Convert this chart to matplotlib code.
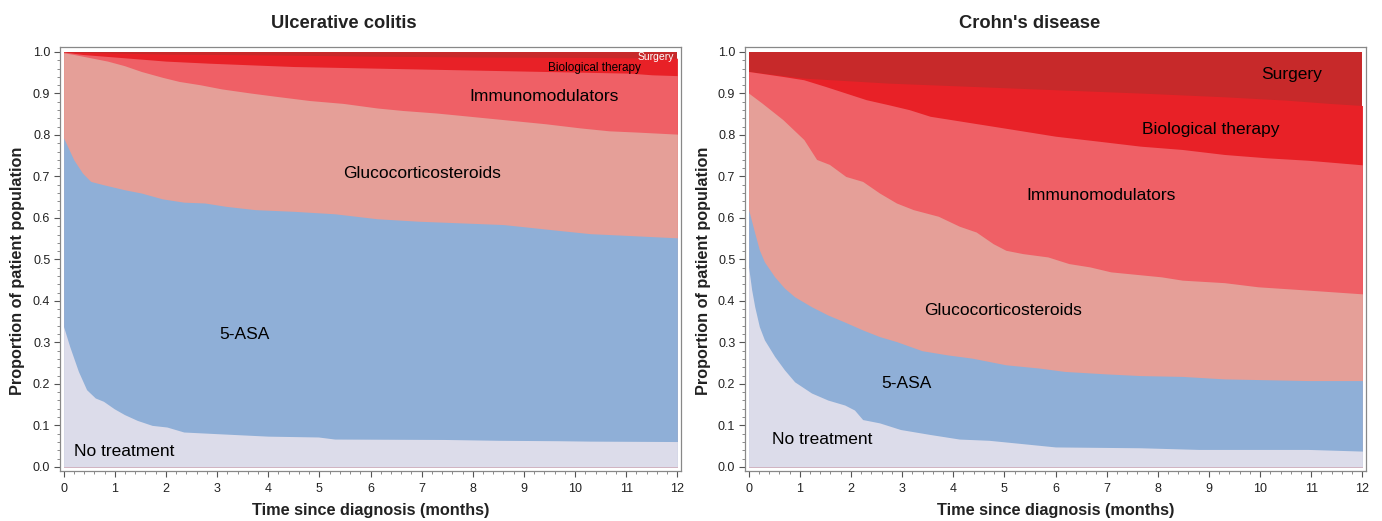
import matplotlib
matplotlib.use("Agg")
import matplotlib.pyplot as plt
from matplotlib.ticker import MultipleLocator, AutoMinorLocator, FormatStrFormatter

plt.rcParams['font.family'] = ['Liberation Sans', 'DejaVu Sans']

# ---------------- Data (upper edge of each cumulative layer) ----------------
# Ulcerative colitis
uc_none_t = [0, 0.12, 0.29, 0.45, 0.62, 0.78, 0.99, 1.19, 1.44, 1.73, 2.02, 2.35, 3.0, 4.0, 4.98, 5.3, 7.45, 8.5, 9.67, 10.3, 12]
uc_none_y = [0.338, 0.29, 0.23, 0.186, 0.166, 0.158, 0.14, 0.126, 0.112, 0.10, 0.096, 0.084, 0.08, 0.074, 0.072, 0.067, 0.066, 0.064, 0.063, 0.062, 0.061]

uc_asa_t = [0, 0.2, 0.37, 0.53, 0.78, 1.19, 1.52, 1.93, 2.35, 2.76, 3.17, 3.74, 4.49, 5.3, 6.13, 6.95, 7.78, 8.6, 9.67, 10.3, 11.0, 12]
uc_asa_y = [0.793, 0.74, 0.708, 0.688, 0.68, 0.668, 0.66, 0.646, 0.638, 0.636, 0.628, 0.62, 0.616, 0.61, 0.598, 0.592, 0.588, 0.584, 0.57, 0.562, 0.558, 0.552]

uc_gluco_t = [0, 0.2, 0.53, 0.86, 1.19, 1.52, 1.93, 2.26, 2.67, 3.09, 3.66, 4.16, 4.81, 5.47, 6.13, 6.63, 7.28, 7.78, 8.6, 9.42, 10.1, 10.66, 11.2, 12]
uc_gluco_y = [0.998, 0.994, 0.986, 0.978, 0.967, 0.953, 0.939, 0.929, 0.921, 0.911, 0.901, 0.893, 0.883, 0.876, 0.865, 0.859, 0.853, 0.847, 0.837, 0.827, 0.817, 0.81, 0.807, 0.802]

uc_immuno_t = [0, 0.37, 1.19, 2.0, 2.84, 3.66, 4.49, 6.13, 7.78, 9.42, 11.07, 11.5, 12]
uc_immuno_y = [1.0, 0.994, 0.986, 0.978, 0.973, 0.969, 0.965, 0.961, 0.957, 0.953, 0.949, 0.945, 0.943]

uc_bio_t = [0, 2, 4, 6, 8, 10, 12]
uc_bio_y = [1.0, 0.995, 0.993, 0.99, 0.988, 0.987, 0.985]

uc_surg_t = [0, 12]
uc_surg_y = [1.0, 1.0]

# Crohn's disease
cd_none_t = [0, 0.06, 0.12, 0.21, 0.31, 0.51, 0.7, 0.9, 1.23, 1.55, 1.88, 2.07, 2.23, 2.56, 2.97, 3.55, 4.12, 4.7, 5.19, 6.0, 7.66, 8.8, 10.94, 12]
cd_none_y = [0.482, 0.427, 0.386, 0.338, 0.306, 0.266, 0.234, 0.205, 0.178, 0.161, 0.149, 0.137, 0.114, 0.106, 0.09, 0.078, 0.067, 0.064, 0.058, 0.048, 0.046, 0.042, 0.042, 0.038]

cd_asa_t = [0, 0.12, 0.21, 0.31, 0.51, 0.7, 0.9, 1.23, 1.55, 1.88, 2.23, 2.56, 2.89, 3.39, 3.88, 4.37, 5.03, 5.69, 6.18, 7.0, 7.66, 8.48, 9.3, 10.12, 10.94, 12]
cd_asa_y = [0.62, 0.564, 0.523, 0.494, 0.458, 0.431, 0.41, 0.386, 0.366, 0.349, 0.33, 0.314, 0.302, 0.28, 0.27, 0.262, 0.246, 0.238, 0.23, 0.224, 0.22, 0.218, 0.212, 0.21, 0.208, 0.208]

cd_gluco_t = [0, 0.26, 0.67, 1.08, 1.33, 1.58, 1.9, 2.23, 2.56, 2.89, 3.22, 3.71, 4.12, 4.45, 4.78, 5.03, 5.36, 5.85, 6.26, 6.67, 7.08, 7.41, 8.07, 8.48, 9.3, 9.96, 10.94, 12]
cd_gluco_y = [0.901, 0.877, 0.837, 0.789, 0.741, 0.729, 0.70, 0.688, 0.66, 0.636, 0.62, 0.604, 0.58, 0.566, 0.538, 0.522, 0.514, 0.506, 0.49, 0.482, 0.47, 0.466, 0.458, 0.45, 0.444, 0.434, 0.426, 0.417]

cd_immuno_t = [0, 0.67, 1.08, 1.5, 1.9, 2.3, 2.73, 3.14, 3.55, 3.96, 4.37, 5.19, 6.0, 6.84, 7.66, 8.48, 9.3, 10.12, 10.94, 12]
cd_immuno_y = [0.953, 0.941, 0.933, 0.917, 0.901, 0.885, 0.873, 0.861, 0.845, 0.837, 0.829, 0.813, 0.797, 0.785, 0.773, 0.765, 0.753, 0.745, 0.739, 0.728]

cd_bio_t = [0, 1.08, 2.73, 4.37, 6.0, 7.66, 9.3, 10.5, 11.36, 12]
cd_bio_y = [0.953, 0.937, 0.925, 0.917, 0.909, 0.901, 0.892, 0.884, 0.876, 0.871]

cd_surg_t = [0, 12]
cd_surg_y = [1.0, 1.0]

layer_names = ["No treatment", "5-ASA", "Glucocorticosteroids", "Immunomodulators", "Biological therapy", "Surgery"]
layer_colors = ["#dcdcea", "#8fafd7", "#e59f98", "#ef6066", "#e82127", "#c7292a"]

panels = [
    {
        "title": "Ulcerative colitis",
        "layers": [(uc_none_t, uc_none_y), (uc_asa_t, uc_asa_y), (uc_gluco_t, uc_gluco_y),
                   (uc_immuno_t, uc_immuno_y), (uc_bio_t, uc_bio_y), (uc_surg_t, uc_surg_y)],
        "labels": [
            ("No treatment", 0.21, 0.036, 12.5, "black", "left"),
            ("5-ASA", 3.54, 0.32, 12.5, "black", "center"),
            ("Glucocorticosteroids", 7.0, 0.706, 12.5, "black", "center"),
            ("Immunomodulators", 9.4, 0.892, 12.5, "black", "center"),
            ("Biological therapy", 10.38, 0.962, 8.5, "black", "center"),
            ("Surgery", 11.57, 0.987, 7.5, "white", "center"),
        ],
        "axpos": [60/1382, 50/521, 621/1382, 424/521],
        "title_x": 344/1382, "ylabel_x": 18/1382,
    },
    {
        "title": "Crohn's disease",
        "layers": [(cd_none_t, cd_none_y), (cd_asa_t, cd_asa_y), (cd_gluco_t, cd_gluco_y),
                   (cd_immuno_t, cd_immuno_y), (cd_bio_t, cd_bio_y), (cd_surg_t, cd_surg_y)],
        "labels": [
            ("No treatment", 1.43, 0.065, 12.5, "black", "center"),
            ("5-ASA", 3.09, 0.20, 12.5, "black", "center"),
            ("Glucocorticosteroids", 4.97, 0.378, 12.5, "black", "center"),
            ("Immunomodulators", 6.89, 0.655, 12.5, "black", "center"),
            ("Biological therapy", 9.04, 0.812, 12.5, "black", "center"),
            ("Surgery", 10.61, 0.945, 12.5, "black", "center"),
        ],
        "axpos": [745/1382, 50/521, 621/1382, 424/521],
        "title_x": 1030/1382, "ylabel_x": 704/1382,
    },
]

fig = plt.figure(figsize=(13.82, 5.21), dpi=100)

for p in panels:
    ax = fig.add_axes(p["axpos"])
    # paint from the top layer down so each lower layer covers the one above
    for (t, y), color in reversed(list(zip(p["layers"], layer_colors))):
        ax.fill_between(t, 0, y, color=color, linewidth=0)
    for text, x, y, fs, c, ha in p["labels"]:
        ax.text(x, y, text, fontsize=fs, color=c, ha=ha, va="center")
    ax.set_xlim(-0.07, 12.07)
    ax.set_ylim(-0.01, 1.012)
    ax.xaxis.set_major_locator(MultipleLocator(1))
    ax.xaxis.set_minor_locator(AutoMinorLocator(5))
    ax.yaxis.set_major_locator(MultipleLocator(0.1))
    ax.yaxis.set_minor_locator(AutoMinorLocator(5))
    ax.yaxis.set_major_formatter(FormatStrFormatter("%.1f"))
    ax.tick_params(which="major", length=4, width=0.8, color="#555555", labelsize=9, labelcolor="#222222")
    ax.tick_params(axis="x", which="major", pad=5)
    ax.tick_params(axis="y", which="major", pad=3)
    ax.tick_params(which="minor", length=2, width=0.6, color="#777777")
    for s in ax.spines.values():
        s.set_color("#888888")
        s.set_linewidth(0.9)
    ax_cx = p["axpos"][0] + p["axpos"][2] / 2
    fig.text(p["title_x"], 498/521, p["title"], fontsize=13.2, fontweight="bold", ha="center", va="center",
             color="#222222")
    fig.text(ax_cx, 11/521, "Time since diagnosis (months)", fontsize=11.7, fontweight="bold",
             ha="center", va="center", color="#222222")
    fig.text(p["ylabel_x"], 250/521, "Proportion of patient population", fontsize=11.7, fontweight="bold",
             ha="center", va="center", rotation=90, color="#222222")

fig.savefig("out.png", dpi=100)
